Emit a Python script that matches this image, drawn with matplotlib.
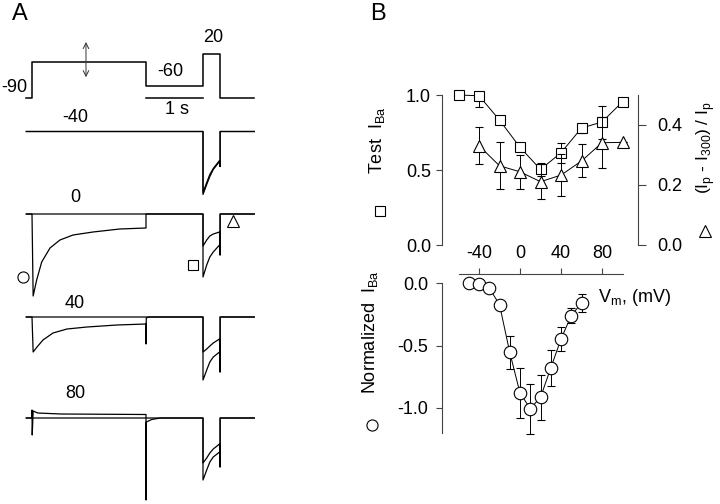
import numpy as np
import matplotlib.pyplot as plt
from matplotlib.lines import Line2D
from matplotlib.ticker import FormatStrFormatter

plt.rcParams['font.family'] = ['Liberation Sans', 'DejaVu Sans']
plt.rcParams['mathtext.fontset'] = 'custom'
plt.rcParams['mathtext.rm'] = 'Liberation Sans'
plt.rcParams['axes.unicode_minus'] = False

W, H = 720, 504
FS = 13

# ---- panel A: protocol (s, mV)
proto_t = [-0.1, 0, 0, 2, 2, 3, 3, 3.3, 3.3, 3.9]
proto_v = [-90, -90, 0, 0, -60, -60, 20, 20, -90, -90]

# test pulse sample times (s)
test_t = [3.0, 3.065, 3.12, 3.18, 3.29]

# current traces, scaled units (negative = inward)
m40_pre_t = [-0.1, 3.0]
m40_pre_i = [0, 0]
m40_test = [-63, -53, -45, -38, -30]
m40_ctrl = [-61, -51, -43, -37, -29]
m40_tail = -35

p0_pre_t = [-0.1, 0, 0.02, 0.082, 0.17, 0.316, 0.49, 0.72, 1.07, 1.54, 2.0, 2.0, 3.0]
p0_pre_i = [0, 0, -82, -66, -48, -34, -26, -21, -18, -15, -14, 0, 0]
p0_test = [-32, -26, -22, -20, -18]
p0_ctrl = [-63, -51, -43, -38, -31]
p0_tail = -41

p40_pre_t = [-0.1, 0, 0.02, 0.088, 0.193, 0.368, 0.614, 0.965, 1.49, 2.0, 2.0, 2.005, 2.05, 3.0]
p40_pre_i = [0, 0, -35, -30, -23, -16, -12, -10, -8, -7, -27, -1, 0, 0]
p40_test = [-35, -32, -29, -26, -22]
p40_ctrl = [-63, -53, -45, -40, -35]
p40_tail = -55

p80_pre_t = [-0.1, 0, 0, 0.004, 0.02, 0.1, 0.5, 2.0, 2.0, 2.005, 2.1, 2.25, 3.0]
p80_pre_i = [0, 0, 8, -17, 7, 5, 4, 3.5, -82, -4, -1.5, 0, 0]
p80_test = [-45, -40, -35, -31, -26]
p80_ctrl = [-62, -52, -44, -39, -34]
p80_tail = -49

# ---- panel B data
sq_x = [-60, -40, -20, 0, 20, 40, 60, 80, 100]
sq_y = [1.00, 0.995, 0.833, 0.651, 0.504, 0.615, 0.78, 0.82, 0.955]
sq_lo = [0, 0.075, 0.02, 0.02, 0.045, 0.065, 0.03, 0.11, 0]
sq_hi = [0, 0, 0.02, 0.02, 0.045, 0.065, 0.03, 0.11, 0]

tri_x = [-40, -20, 0, 20, 40, 60, 80, 100]
tri_y = [0.331, 0.264, 0.244, 0.211, 0.233, 0.28, 0.341, 0.342]
tri_err = [0.061, 0.078, 0.056, 0.058, 0.07, 0.055, 0.085, 0]

circ_x = [-50, -40, -30, -20, -10, 0, 10, 20, 30, 40, 50, 60]
circ_y = [0.0, -0.005, -0.04, -0.173, -0.555, -0.88, -1.005, -0.915, -0.68, -0.448, -0.261, -0.16]
circ_err = [0, 0, 0, 0, 0.13, 0.197, 0.2, 0.18, 0.147, 0.096, 0.06, 0.072]


def fx(x):
    return x / W


def fy(y):
    return 1 - y / H


def rect(left, top, right, bottom):
    return [left / W, 1 - bottom / H, (right - left) / W, (bottom - top) / H]


def sym(x, y, m, ms):
    fig.add_artist(Line2D([fx(x)], [fy(y)], transform=fig.transFigure, marker=m,
                          ms=ms, mfc='white', mec='black', mew=0.8, ls='none'))


fig = plt.figure(figsize=(7.2, 5.04), dpi=100)

# panel A axes: x in s, y in pixel-like units
ax_a = fig.add_axes([0, 0, 300 / W, 1])
ax_a.set_xlim(-32 / 57, 268 / 57)
ax_a.set_ylim(-504, 0)
ax_a.axis('off')

base_v = 98
ax_a.plot(proto_t, [-base_v + (v + 90) * 0.4 for v in proto_v], color='black', lw=1.1)
ax_a.plot([2, 3], [-base_v, -base_v], color='black', lw=1.1)
ax_a.annotate('', xy=(0.947, -base_v + (57 + 90) * 0.4), xytext=(0.947, -base_v + (-45 + 90) * 0.4),
              arrowprops=dict(arrowstyle='<->', lw=0.7, color='#333333'))


def trace(base, pre_t, pre_i, test_i, ctrl_i, tail):
    t = list(pre_t) + [3.0] + test_t + [3.3, 3.3, 3.9]
    i = list(pre_i) + [test_i[0]] + test_i + [tail, 0, 0]
    ax_a.plot(t, [-base + v for v in i], color='black', lw=0.9)
    # control sweep, no prepulse
    t = [-0.1, 3.0, 3.0] + test_t + [3.3, 3.3, 3.9]
    i = [0, 0, ctrl_i[0]] + ctrl_i + [tail, 0, 0]
    ax_a.plot(t, [-base + v for v in i], color='black', lw=0.9)


trace(131.5, m40_pre_t, m40_pre_i, m40_test, m40_ctrl, m40_tail)
trace(214, p0_pre_t, p0_pre_i, p0_test, p0_ctrl, p0_tail)
trace(317, p40_pre_t, p40_pre_i, p40_test, p40_ctrl, p40_tail)
trace(418, p80_pre_t, p80_pre_i, p80_test, p80_ctrl, p80_tail)

fig.text(fx(20), fy(14), 'A', fontsize=17, ha='center', va='center')
fig.text(fx(27), fy(88), '-90', fontsize=FS, ha='right', va='center')
fig.text(fx(170), fy(72), '-60', fontsize=FS, ha='center', va='center')
fig.text(fx(213), fy(37), '20', fontsize=FS, ha='center', va='center')
fig.text(fx(177), fy(110), '1 s', fontsize=FS, ha='center', va='center')
for lab, yy in [('-40', 117), ('0', 197), ('40', 303), ('80', 394)]:
    fig.text(fx(75), fy(yy), lab, fontsize=FS, ha='center', va='center')
sym(23, 277, 'o', 8)
sym(193, 265, 's', 7)
sym(233, 221, '^', 8)

# ---- panel B
xl = (-76.1, 115.1)
spc = '#444444'

ax_up = fig.add_axes(rect(442, 95, 638, 274))
ax_up.patch.set_visible(False)
ax_up.set_xlim(*xl)
ax_up.set_ylim(-0.1933, 1.0)
for s in ['top', 'bottom', 'right']:
    ax_up.spines[s].set_visible(False)
ax_up.spines['left'].set_bounds(0, 1)
ax_up.spines['left'].set_color(spc)
ax_up.set_xticks([])
ax_up.set_yticks([0, 0.5, 1.0])
ax_up.yaxis.set_major_formatter(FormatStrFormatter('%.1f'))
ax_up.tick_params(axis='y', length=4, width=0.8, color=spc, labelsize=FS, pad=4)

ax_r = ax_up.twinx()
ax_r.patch.set_visible(False)
ax_r.set_ylim(-0.0967, 0.5)
for s in ['top', 'bottom', 'left']:
    ax_r.spines[s].set_visible(False)
ax_r.spines['right'].set_bounds(0, 0.5)
ax_r.spines['right'].set_color(spc)
ax_r.set_yticks([0, 0.2, 0.4])
ax_r.yaxis.set_major_formatter(FormatStrFormatter('%.1f'))
ax_r.tick_params(axis='y', length=6, width=0.8, color=spc, labelsize=FS, pad=8)

ax_up.errorbar(sq_x, sq_y, yerr=[sq_lo, sq_hi], color='black', lw=0.7, elinewidth=0.7,
               capsize=3, capthick=0.7, marker='s', ms=7.5, mfc='white', mec='black',
               mew=0.8, clip_on=False, zorder=3)
ax_r.errorbar(tri_x, tri_y, yerr=tri_err, color='black', lw=0.7, elinewidth=0.7,
              capsize=3, capthick=0.7, marker='^', ms=8.5, mfc='white', mec='black',
              mew=0.8, clip_on=False, zorder=3)

ax_lo = fig.add_axes(rect(442, 274, 638, 440))
ax_lo.patch.set_visible(False)
ax_lo.set_xlim(*xl)
ax_lo.set_ylim(-1.256, 0.072)
for s in ['right', 'bottom']:
    ax_lo.spines[s].set_visible(False)
ax_lo.spines['top'].set_bounds(-60, 100)
ax_lo.spines['left'].set_bounds(-1.2, 0)
ax_lo.spines['top'].set_color(spc)
ax_lo.spines['left'].set_color(spc)
ax_lo.xaxis.tick_top()
ax_lo.set_xticks([-40, 0, 40, 80])
ax_lo.set_yticks([0, -0.5, -1.0])
ax_lo.yaxis.set_major_formatter(FormatStrFormatter('%.1f'))
ax_lo.tick_params(axis='x', length=4, width=0.8, color=spc, labelsize=FS, pad=5)
ax_lo.tick_params(axis='y', length=4, width=0.8, color=spc, labelsize=FS, pad=6)

ax_lo.errorbar(circ_x, circ_y, yerr=circ_err, color='black', lw=0.7, elinewidth=0.7,
               capsize=3, capthick=0.7, marker='o', ms=9, mfc='white', mec='black',
               mew=0.8, clip_on=False, zorder=3)

fig.text(fx(378), fy(14), 'B', fontsize=17, ha='center', va='center')
fig.text(fx(377), fy(140), r'Test  I$_{\mathregular{Ba}}$', fontsize=FS, rotation=90,
         ha='center', va='center')
sym(380, 211, 's', 7)
fig.text(fx(706), fy(148), r'(I$_{\mathregular{p}}$ - I$_{\mathregular{300}}$) / I$_{\mathregular{p}}$',
         fontsize=12.5, rotation=90, ha='center', va='center')
sym(705, 231, '^', 8)
fig.text(fx(370), fy(332), r'Normalized  I$_{\mathregular{Ba}}$', fontsize=FS, rotation=90,
         ha='center', va='center')
sym(372, 425, 'o', 8)
fig.text(fx(598), fy(297), r'V$_{\mathregular{m}}$, (mV)', fontsize=FS, ha='left', va='center')

fig.savefig('out.png', dpi=100)
